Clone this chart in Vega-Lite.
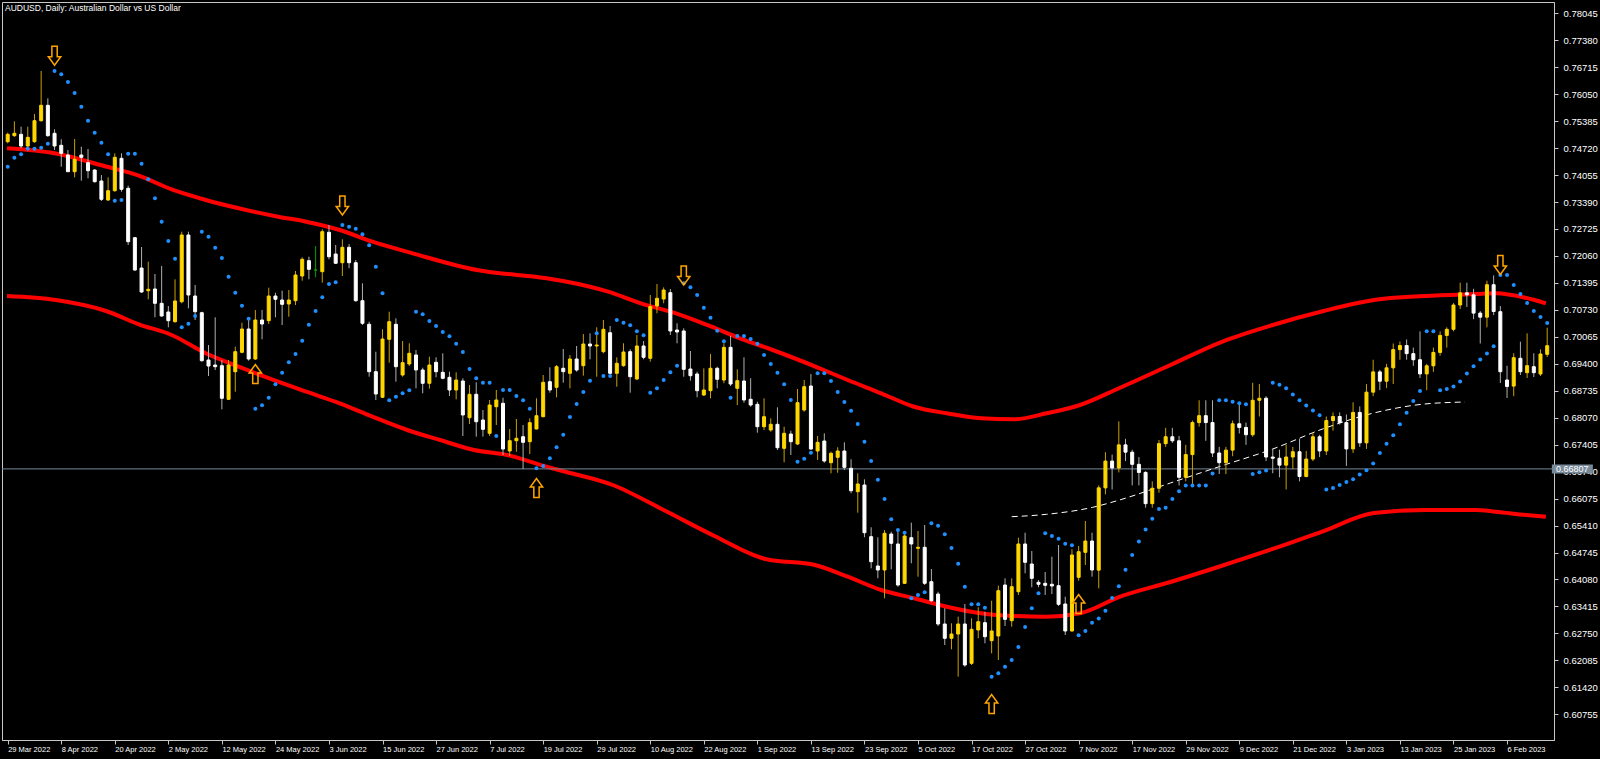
{
"$schema": "https://vega.github.io/schema/vega-lite/v6.json",
"width": 1552, "height": 738,
"autosize": {"type": "none"},
"padding": {"left": 2, "top": 2, "right": 46, "bottom": 19},
"background": "#000000",
"config": {"view": {"stroke": "#c8c8c8", "strokeWidth": 1}, "font": "Liberation Sans", "axis": {"grid": false, "labelOverlap": false, "labelFlush": false, "labelBound": false}},
"title": {"text": "AUDUSD, Daily:  Australian Dollar vs US Dollar", "anchor": "start", "frame": "group", "orient": "top", "offset": -10, "dx": 3, "fontSize": 8.5, "font": "Liberation Sans", "fontWeight": "normal", "color": "#ffffff"},
"datasets": {
"candles": [
{"i":0,"o":0.74878,"h":0.75100,"l":0.74838,"c":0.75060,"s":0.74261},
{"i":1,"o":0.75026,"h":0.75381,"l":0.75001,"c":0.75085,"s":0.74483},
{"i":2,"o":0.75060,"h":0.75248,"l":0.74715,"c":0.74772,"s":0.74567},
{"i":3,"o":0.74772,"h":0.75248,"l":0.74740,"c":0.74986,"s":0.74705},
{"i":4,"o":0.74878,"h":0.75561,"l":0.74853,"c":0.75396,"s":0.74705},
{"i":5,"o":0.75396,"h":0.76622,"l":0.75371,"c":0.75776,"s":0.74730},
{"i":6,"o":0.75776,"h":0.75948,"l":0.75001,"c":0.75026,"s":0.74829},
{"i":7,"o":0.75085,"h":0.75184,"l":0.74673,"c":0.74772,"s":0.76622},
{"i":8,"o":0.74789,"h":0.74937,"l":0.74261,"c":0.74592,"s":0.76540},
{"i":9,"o":0.74550,"h":0.74673,"l":0.74138,"c":0.74138,"s":0.76350},
{"i":10,"o":0.74138,"h":0.74944,"l":0.74000,"c":0.74444,"s":0.76079},
{"i":11,"o":0.74550,"h":0.74755,"l":0.73916,"c":0.74493,"s":0.75741},
{"i":12,"o":0.74360,"h":0.74698,"l":0.73975,"c":0.74162,"s":0.75396},
{"i":13,"o":0.74180,"h":0.74200,"l":0.73870,"c":0.73891,"s":0.75100},
{"i":14,"o":0.73909,"h":0.74056,"l":0.73415,"c":0.73457,"s":0.74853},
{"i":15,"o":0.73440,"h":0.74000,"l":0.73415,"c":0.73669,"s":0.74567},
{"i":16,"o":0.73669,"h":0.74592,"l":0.73645,"c":0.74493,"s":0.73423},
{"i":17,"o":0.74468,"h":0.74592,"l":0.73645,"c":0.73704,"s":0.73440},
{"i":18,"o":0.73728,"h":0.73793,"l":0.72330,"c":0.72411,"s":0.74582},
{"i":19,"o":0.72510,"h":0.72530,"l":0.71690,"c":0.71713,"s":0.74582},
{"i":20,"o":0.71762,"h":0.72280,"l":0.71146,"c":0.71171,"s":0.74335},
{"i":21,"o":0.71203,"h":0.71918,"l":0.70991,"c":0.71237,"s":0.73950},
{"i":22,"o":0.71245,"h":0.71615,"l":0.70547,"c":0.70892,"s":0.73482},
{"i":23,"o":0.70892,"h":0.71812,"l":0.70561,"c":0.70579,"s":0.72904},
{"i":24,"o":0.70677,"h":0.70825,"l":0.70300,"c":0.70463,"s":0.72429},
{"i":25,"o":0.70438,"h":0.71484,"l":0.70413,"c":0.70949,"s":0.71992},
{"i":26,"o":0.70931,"h":0.72658,"l":0.70892,"c":0.72577,"s":0.70300},
{"i":27,"o":0.72577,"h":0.72658,"l":0.70769,"c":0.71097,"s":0.70389},
{"i":28,"o":0.71072,"h":0.71343,"l":0.70480,"c":0.70685,"s":0.70579},
{"i":29,"o":0.70660,"h":0.70685,"l":0.69451,"c":0.69476,"s":0.72658},
{"i":30,"o":0.69493,"h":0.69863,"l":0.69099,"c":0.69345,"s":0.72535},
{"i":31,"o":0.69370,"h":0.70547,"l":0.69247,"c":0.69328,"s":0.72263},
{"i":32,"o":0.69353,"h":0.69493,"l":0.68277,"c":0.68549,"s":0.72009},
{"i":33,"o":0.68524,"h":0.69493,"l":0.68507,"c":0.69370,"s":0.71548},
{"i":34,"o":0.69205,"h":0.69821,"l":0.68711,"c":0.69698,"s":0.71153},
{"i":35,"o":0.69683,"h":0.70413,"l":0.69659,"c":0.70258,"s":0.70833},
{"i":36,"o":0.70258,"h":0.70480,"l":0.69476,"c":0.69518,"s":0.70512},
{"i":37,"o":0.69518,"h":0.70727,"l":0.69493,"c":0.70480,"s":0.68292},
{"i":38,"o":0.70480,"h":0.70727,"l":0.70004,"c":0.70381,"s":0.68376},
{"i":39,"o":0.70463,"h":0.71277,"l":0.70381,"c":0.71072,"s":0.68563},
{"i":40,"o":0.71072,"h":0.71153,"l":0.70547,"c":0.70991,"s":0.68894},
{"i":41,"o":0.70973,"h":0.71203,"l":0.70357,"c":0.70867,"s":0.69180},
{"i":42,"o":0.70875,"h":0.71220,"l":0.70561,"c":0.70973,"s":0.69436},
{"i":43,"o":0.70956,"h":0.71689,"l":0.70850,"c":0.71590,"s":0.69641},
{"i":44,"o":0.71565,"h":0.72026,"l":0.71449,"c":0.71977,"s":0.69969},
{"i":45,"o":0.71943,"h":0.72041,"l":0.71484,"c":0.71730,"s":0.70364},
{"i":46,"o":0.71713,"h":0.72305,"l":0.71533,"c":0.71713,"s":0.70702},
{"i":47,"o":0.71671,"h":0.72717,"l":0.71400,"c":0.72658,"s":0.71040},
{"i":48,"o":0.72643,"h":0.72823,"l":0.71977,"c":0.72041,"s":0.71368},
{"i":49,"o":0.72108,"h":0.72330,"l":0.71861,"c":0.71879,"s":0.71410},
{"i":50,"o":0.71893,"h":0.72470,"l":0.71565,"c":0.72273,"s":0.72823},
{"i":51,"o":0.72273,"h":0.72355,"l":0.71755,"c":0.71893,"s":0.72781},
{"i":52,"o":0.71893,"h":0.71960,"l":0.70931,"c":0.70956,"s":0.72732},
{"i":53,"o":0.70956,"h":0.71385,"l":0.70357,"c":0.70399,"s":0.72594},
{"i":54,"o":0.70374,"h":0.70438,"l":0.69081,"c":0.69205,"s":0.72322},
{"i":55,"o":0.69205,"h":0.69698,"l":0.68507,"c":0.68655,"s":0.71795},
{"i":56,"o":0.68573,"h":0.70251,"l":0.68560,"c":0.70011,"s":0.71138},
{"i":57,"o":0.70004,"h":0.70685,"l":0.69427,"c":0.70438,"s":0.68499},
{"i":58,"o":0.70374,"h":0.70522,"l":0.68958,"c":0.69328,"s":0.68588},
{"i":59,"o":0.69123,"h":0.69962,"l":0.69081,"c":0.69427,"s":0.68672},
{"i":60,"o":0.69395,"h":0.69905,"l":0.69345,"c":0.69659,"s":0.68746},
{"i":61,"o":0.69617,"h":0.69740,"l":0.68795,"c":0.69247,"s":0.70685},
{"i":62,"o":0.69247,"h":0.69303,"l":0.68672,"c":0.68919,"s":0.70620},
{"i":63,"o":0.68919,"h":0.69575,"l":0.68786,"c":0.69370,"s":0.70455},
{"i":64,"o":0.69437,"h":0.69560,"l":0.69066,"c":0.69205,"s":0.70332},
{"i":65,"o":0.69190,"h":0.69659,"l":0.69017,"c":0.69042,"s":0.70184},
{"i":66,"o":0.69066,"h":0.69205,"l":0.68605,"c":0.68753,"s":0.70078},
{"i":67,"o":0.68753,"h":0.69190,"l":0.68524,"c":0.68999,"s":0.69895},
{"i":68,"o":0.68975,"h":0.69042,"l":0.67619,"c":0.68137,"s":0.69691},
{"i":69,"o":0.68070,"h":0.68877,"l":0.67915,"c":0.68647,"s":0.69271},
{"i":70,"o":0.68647,"h":0.68943,"l":0.67602,"c":0.67971,"s":0.69042},
{"i":71,"o":0.68013,"h":0.68260,"l":0.67602,"c":0.67784,"s":0.68933},
{"i":72,"o":0.67685,"h":0.68507,"l":0.67619,"c":0.68383,"s":0.68933},
{"i":73,"o":0.68341,"h":0.68753,"l":0.67890,"c":0.68507,"s":0.67619},
{"i":74,"o":0.68425,"h":0.68563,"l":0.67150,"c":0.67298,"s":0.68753},
{"i":75,"o":0.67249,"h":0.67791,"l":0.67125,"c":0.67503,"s":0.68753},
{"i":76,"o":0.67503,"h":0.68038,"l":0.67231,"c":0.67562,"s":0.68605},
{"i":77,"o":0.67601,"h":0.67890,"l":0.66805,"c":0.67463,"s":0.68499},
{"i":78,"o":0.67478,"h":0.68055,"l":0.67175,"c":0.67947,"s":0.68292},
{"i":79,"o":0.67791,"h":0.68549,"l":0.67784,"c":0.68119,"s":0.66822},
{"i":80,"o":0.68095,"h":0.69123,"l":0.68080,"c":0.68943,"s":0.66879},
{"i":81,"o":0.68958,"h":0.69313,"l":0.68687,"c":0.68753,"s":0.67068},
{"i":82,"o":0.68820,"h":0.69370,"l":0.68573,"c":0.69328,"s":0.67340},
{"i":83,"o":0.69289,"h":0.69765,"l":0.68933,"c":0.69205,"s":0.67651},
{"i":84,"o":0.69165,"h":0.69617,"l":0.68795,"c":0.69518,"s":0.68087},
{"i":85,"o":0.69518,"h":0.69839,"l":0.69205,"c":0.69247,"s":0.68408},
{"i":86,"o":0.69353,"h":0.70134,"l":0.69106,"c":0.69888,"s":0.68704},
{"i":87,"o":0.69888,"h":0.70152,"l":0.69511,"c":0.69839,"s":0.68983},
{"i":88,"o":0.69839,"h":0.70300,"l":0.69081,"c":0.69863,"s":0.70152},
{"i":89,"o":0.69698,"h":0.70480,"l":0.69659,"c":0.70250,"s":0.69099},
{"i":90,"o":0.70166,"h":0.70332,"l":0.69148,"c":0.69165,"s":0.69099},
{"i":91,"o":0.69165,"h":0.69560,"l":0.68835,"c":0.69412,"s":0.70480},
{"i":92,"o":0.69353,"h":0.69905,"l":0.69328,"c":0.69691,"s":0.70413},
{"i":93,"o":0.69698,"h":0.69757,"l":0.68687,"c":0.69081,"s":0.70349},
{"i":94,"o":0.69025,"h":0.70110,"l":0.68999,"c":0.69839,"s":0.70201},
{"i":95,"o":0.69839,"h":0.69962,"l":0.69511,"c":0.69560,"s":0.70102},
{"i":96,"o":0.69535,"h":0.71097,"l":0.69451,"c":0.70808,"s":0.68687},
{"i":97,"o":0.70825,"h":0.71368,"l":0.70645,"c":0.71015,"s":0.68795},
{"i":98,"o":0.70998,"h":0.71286,"l":0.70892,"c":0.71220,"s":0.68999},
{"i":99,"o":0.71153,"h":0.71245,"l":0.70110,"c":0.70209,"s":0.69190},
{"i":100,"o":0.70233,"h":0.70398,"l":0.69905,"c":0.70184,"s":0.69353},
{"i":101,"o":0.70209,"h":0.70275,"l":0.69081,"c":0.69264,"s":0.71385},
{"i":102,"o":0.69271,"h":0.69715,"l":0.68983,"c":0.69106,"s":0.71286},
{"i":103,"o":0.69148,"h":0.69205,"l":0.68573,"c":0.68736,"s":0.71097},
{"i":104,"o":0.68630,"h":0.69289,"l":0.68605,"c":0.68753,"s":0.70783},
{"i":105,"o":0.68736,"h":0.69641,"l":0.68549,"c":0.69289,"s":0.70537},
{"i":106,"o":0.69289,"h":0.69328,"l":0.68795,"c":0.69017,"s":0.70216},
{"i":107,"o":0.68999,"h":0.69905,"l":0.68919,"c":0.69806,"s":0.69955},
{"i":108,"o":0.69806,"h":0.70093,"l":0.68852,"c":0.68901,"s":0.68563},
{"i":109,"o":0.68795,"h":0.69264,"l":0.68383,"c":0.68983,"s":0.70085},
{"i":110,"o":0.68975,"h":0.69560,"l":0.68440,"c":0.68507,"s":0.70085},
{"i":111,"o":0.68524,"h":0.69042,"l":0.68341,"c":0.68383,"s":0.70011},
{"i":112,"o":0.68400,"h":0.68465,"l":0.67700,"c":0.67848,"s":0.69895},
{"i":113,"o":0.67848,"h":0.68549,"l":0.67767,"c":0.68095,"s":0.69617},
{"i":114,"o":0.67767,"h":0.68055,"l":0.67725,"c":0.67907,"s":0.69395},
{"i":115,"o":0.67907,"h":0.68326,"l":0.67273,"c":0.67330,"s":0.69180},
{"i":116,"o":0.67315,"h":0.67848,"l":0.66970,"c":0.67685,"s":0.68894},
{"i":117,"o":0.67668,"h":0.67749,"l":0.67150,"c":0.67478,"s":0.68507},
{"i":118,"o":0.67421,"h":0.68778,"l":0.67397,"c":0.68440,"s":0.66985},
{"i":119,"o":0.68260,"h":0.68999,"l":0.68218,"c":0.68835,"s":0.67059},
{"i":120,"o":0.68852,"h":0.69148,"l":0.67273,"c":0.67298,"s":0.67207},
{"i":121,"o":0.67249,"h":0.67619,"l":0.67027,"c":0.67463,"s":0.69165},
{"i":122,"o":0.67495,"h":0.67685,"l":0.66960,"c":0.67002,"s":0.69165},
{"i":123,"o":0.66960,"h":0.67231,"l":0.66698,"c":0.67192,"s":0.68975},
{"i":124,"o":0.67093,"h":0.67340,"l":0.66713,"c":0.67249,"s":0.68704},
{"i":125,"o":0.67249,"h":0.67463,"l":0.66780,"c":0.66846,"s":0.68457},
{"i":126,"o":0.66822,"h":0.67044,"l":0.66205,"c":0.66269,"s":0.68243},
{"i":127,"o":0.66245,"h":0.66698,"l":0.65727,"c":0.66435,"s":0.67915},
{"i":128,"o":0.66410,"h":0.66550,"l":0.65120,"c":0.65233,"s":0.67478},
{"i":129,"o":0.65135,"h":0.65367,"l":0.64355,"c":0.64518,"s":0.67002},
{"i":130,"o":0.64412,"h":0.65120,"l":0.64108,"c":0.64313,"s":0.66541},
{"i":131,"o":0.64313,"h":0.65300,"l":0.63615,"c":0.65219,"s":0.66065},
{"i":132,"o":0.65201,"h":0.65258,"l":0.64331,"c":0.64972,"s":0.65564},
{"i":133,"o":0.64955,"h":0.65258,"l":0.63901,"c":0.63943,"s":0.65300},
{"i":134,"o":0.63984,"h":0.65258,"l":0.63968,"c":0.65152,"s":0.65233},
{"i":135,"o":0.65110,"h":0.65480,"l":0.64479,"c":0.64955,"s":0.63615},
{"i":136,"o":0.64849,"h":0.65275,"l":0.64148,"c":0.64873,"s":0.63697},
{"i":137,"o":0.64873,"h":0.65423,"l":0.63943,"c":0.63985,"s":0.63763},
{"i":138,"o":0.64025,"h":0.64338,"l":0.63531,"c":0.63556,"s":0.65465},
{"i":139,"o":0.63721,"h":0.63778,"l":0.62932,"c":0.62981,"s":0.65406},
{"i":140,"o":0.62981,"h":0.63369,"l":0.62463,"c":0.62629,"s":0.65194},
{"i":141,"o":0.62629,"h":0.62999,"l":0.62357,"c":0.62734,"s":0.64856},
{"i":142,"o":0.62734,"h":0.63162,"l":0.61682,"c":0.62981,"s":0.64469},
{"i":143,"o":0.62981,"h":0.63475,"l":0.61928,"c":0.61970,"s":0.63901},
{"i":144,"o":0.62012,"h":0.63122,"l":0.61970,"c":0.62850,"s":0.63467},
{"i":145,"o":0.62834,"h":0.63393,"l":0.62629,"c":0.63038,"s":0.63467},
{"i":146,"o":0.63014,"h":0.63285,"l":0.62505,"c":0.62668,"s":0.63383},
{"i":147,"o":0.62570,"h":0.63556,"l":0.62258,"c":0.62809,"s":0.61682},
{"i":148,"o":0.62686,"h":0.63926,"l":0.62093,"c":0.63803,"s":0.61765},
{"i":149,"o":0.63943,"h":0.64108,"l":0.62932,"c":0.63097,"s":0.61928},
{"i":150,"o":0.63063,"h":0.64108,"l":0.62915,"c":0.63901,"s":0.62093},
{"i":151,"o":0.63778,"h":0.65110,"l":0.63697,"c":0.64955,"s":0.62414},
{"i":152,"o":0.64955,"h":0.65233,"l":0.64232,"c":0.64503,"s":0.62907},
{"i":153,"o":0.64461,"h":0.64782,"l":0.63887,"c":0.64108,"s":0.63369},
{"i":154,"o":0.64010,"h":0.64067,"l":0.63887,"c":0.63961,"s":0.63739},
{"i":155,"o":0.63985,"h":0.64264,"l":0.63697,"c":0.63936,"s":0.65219},
{"i":156,"o":0.63961,"h":0.64641,"l":0.63721,"c":0.63919,"s":0.65152},
{"i":157,"o":0.63926,"h":0.64930,"l":0.63425,"c":0.63467,"s":0.65085},
{"i":158,"o":0.63475,"h":0.63655,"l":0.62710,"c":0.62809,"s":0.64962},
{"i":159,"o":0.62809,"h":0.64824,"l":0.62791,"c":0.64683,"s":0.64923},
{"i":160,"o":0.64133,"h":0.64905,"l":0.64049,"c":0.64765,"s":0.62703},
{"i":161,"o":0.64750,"h":0.65522,"l":0.64437,"c":0.65028,"s":0.62809},
{"i":162,"o":0.65028,"h":0.65233,"l":0.64148,"c":0.64313,"s":0.63014},
{"i":163,"o":0.6431,"h":0.6640,"l":0.6386,"c":0.6634,"s":0.63114},
{"i":164,"o":0.6634,"h":0.6722,"l":0.6618,"c":0.6700,"s":0.63311},
{"i":165,"o":0.6700,"h":0.6716,"l":0.6630,"c":0.6683,"s":0.63624},
{"i":166,"o":0.6683,"h":0.6798,"l":0.6672,"c":0.6740,"s":0.63912},
{"i":167,"o":0.6740,"h":0.6755,"l":0.6700,"c":0.6722,"s":0.64319},
{"i":168,"o":0.6722,"h":0.6728,"l":0.6640,"c":0.6692,"s":0.64685},
{"i":169,"o":0.6692,"h":0.6710,"l":0.6640,"c":0.6672,"s":0.65015},
{"i":170,"o":0.6672,"h":0.6675,"l":0.6585,"c":0.6595,"s":0.65312},
{"i":171,"o":0.6595,"h":0.6650,"l":0.6585,"c":0.6633,"s":0.65579},
{"i":172,"o":0.6633,"h":0.6752,"l":0.6622,"c":0.6743,"s":0.65819},
{"i":173,"o":0.6743,"h":0.6782,"l":0.6735,"c":0.6760,"s":0.65850},
{"i":174,"o":0.6760,"h":0.6782,"l":0.6745,"c":0.6750,"s":0.66063},
{"i":175,"o":0.6750,"h":0.6762,"l":0.6640,"c":0.6660,"s":0.66255},
{"i":176,"o":0.6660,"h":0.6740,"l":0.6650,"c":0.6716,"s":0.66400},
{"i":177,"o":0.6716,"h":0.6800,"l":0.6640,"c":0.6795,"s":0.66400},
{"i":178,"o":0.6795,"h":0.6850,"l":0.6785,"c":0.6812,"s":0.66400},
{"i":179,"o":0.6812,"h":0.6850,"l":0.6750,"c":0.6795,"s":0.66400},
{"i":180,"o":0.6795,"h":0.6850,"l":0.6710,"c":0.6720,"s":0.66694},
{"i":181,"o":0.6720,"h":0.6735,"l":0.6668,"c":0.6696,"s":0.68500},
{"i":182,"o":0.6696,"h":0.6735,"l":0.6668,"c":0.6727,"s":0.68500},
{"i":183,"o":0.6727,"h":0.6800,"l":0.6712,"c":0.6792,"s":0.68464},
{"i":184,"o":0.6792,"h":0.6840,"l":0.6768,"c":0.6783,"s":0.68428},
{"i":185,"o":0.6783,"h":0.6795,"l":0.6740,"c":0.6765,"s":0.68400},
{"i":186,"o":0.6765,"h":0.6893,"l":0.6760,"c":0.6850,"s":0.66680},
{"i":187,"o":0.6850,"h":0.6890,"l":0.6810,"c":0.6855,"s":0.66725},
{"i":188,"o":0.6855,"h":0.6860,"l":0.6700,"c":0.6710,"s":0.66769},
{"i":189,"o":0.6710,"h":0.6730,"l":0.6670,"c":0.6707,"s":0.68930},
{"i":190,"o":0.6707,"h":0.6728,"l":0.6660,"c":0.6690,"s":0.68885},
{"i":191,"o":0.6690,"h":0.6740,"l":0.6630,"c":0.6710,"s":0.68794},
{"i":192,"o":0.6710,"h":0.6735,"l":0.6680,"c":0.6723,"s":0.68644},
{"i":193,"o":0.6723,"h":0.6755,"l":0.6650,"c":0.6662,"s":0.68503},
{"i":194,"o":0.6662,"h":0.6725,"l":0.6660,"c":0.6705,"s":0.68371},
{"i":195,"o":0.6705,"h":0.6770,"l":0.6700,"c":0.6760,"s":0.68247},
{"i":196,"o":0.6760,"h":0.6765,"l":0.6710,"c":0.6725,"s":0.68130},
{"i":197,"o":0.6725,"h":0.6810,"l":0.6715,"c":0.6800,"s":0.66300},
{"i":198,"o":0.6800,"h":0.6820,"l":0.6775,"c":0.6810,"s":0.66336},
{"i":199,"o":0.6810,"h":0.6820,"l":0.6790,"c":0.6795,"s":0.66411},
{"i":200,"o":0.6795,"h":0.6815,"l":0.6688,"c":0.6730,"s":0.66483},
{"i":201,"o":0.6730,"h":0.6845,"l":0.6720,"c":0.6820,"s":0.66552},
{"i":202,"o":0.6820,"h":0.6835,"l":0.6735,"c":0.6745,"s":0.66666},
{"i":203,"o":0.6745,"h":0.6890,"l":0.6730,"c":0.6870,"s":0.66773},
{"i":204,"o":0.6870,"h":0.6950,"l":0.6860,"c":0.6920,"s":0.66943},
{"i":205,"o":0.6920,"h":0.6925,"l":0.6875,"c":0.6897,"s":0.67199},
{"i":206,"o":0.6897,"h":0.6940,"l":0.6880,"c":0.6930,"s":0.67429},
{"i":207,"o":0.6930,"h":0.6990,"l":0.6890,"c":0.6975,"s":0.67636},
{"i":208,"o":0.6975,"h":0.6995,"l":0.6950,"c":0.6985,"s":0.67908},
{"i":209,"o":0.6985,"h":0.7000,"l":0.6950,"c":0.6965,"s":0.68194},
{"i":210,"o":0.6965,"h":0.6980,"l":0.6935,"c":0.6950,"s":0.68483},
{"i":211,"o":0.6950,"h":0.7020,"l":0.6905,"c":0.6915,"s":0.68726},
{"i":212,"o":0.6915,"h":0.6940,"l":0.6875,"c":0.6935,"s":0.70200},
{"i":213,"o":0.6935,"h":0.6980,"l":0.6920,"c":0.6968,"s":0.70200},
{"i":214,"o":0.6968,"h":0.7020,"l":0.6960,"c":0.7010,"s":0.68750},
{"i":215,"o":0.7010,"h":0.7030,"l":0.6980,"c":0.7025,"s":0.68779},
{"i":216,"o":0.7025,"h":0.7090,"l":0.7020,"c":0.7085,"s":0.68840},
{"i":217,"o":0.7085,"h":0.7140,"l":0.7075,"c":0.7115,"s":0.68964},
{"i":218,"o":0.7115,"h":0.7140,"l":0.7080,"c":0.7110,"s":0.69159},
{"i":219,"o":0.7110,"h":0.7125,"l":0.7050,"c":0.7065,"s":0.69338},
{"i":220,"o":0.7065,"h":0.7070,"l":0.6990,"c":0.7055,"s":0.69503},
{"i":221,"o":0.7055,"h":0.7145,"l":0.7030,"c":0.7135,"s":0.69655},
{"i":222,"o":0.7135,"h":0.7158,"l":0.7060,"c":0.7069,"s":0.69835},
{"i":223,"o":0.70685,"h":0.70825,"l":0.68926,"c":0.69205,"s":0.71590},
{"i":224,"o":0.69000,"h":0.69350,"l":0.68556,"c":0.68840,"s":0.71590},
{"i":225,"o":0.68850,"h":0.69660,"l":0.68600,"c":0.69550,"s":0.71343},
{"i":226,"o":0.69535,"h":0.69945,"l":0.69123,"c":0.69205,"s":0.71121},
{"i":227,"o":0.69180,"h":0.70152,"l":0.69049,"c":0.69353,"s":0.70899},
{"i":228,"o":0.69328,"h":0.69659,"l":0.69074,"c":0.69180,"s":0.70702},
{"i":229,"o":0.69148,"h":0.69757,"l":0.69099,"c":0.69641,"s":0.70554},
{"i":230,"o":0.69634,"h":0.70290,"l":0.69567,"c":0.69846,"s":0.70406}
],
"bands": [
{"b":"up","i":-0.1,"v":0.74715},{"b":"up","i":7.0,"v":0.74592},{"b":"up","i":14.4,"v":0.74278},{"b":"up","i":19.6,"v":0.74040},{"b":"up","i":24.5,"v":0.73700},{"b":"up","i":29.6,"v":0.73440},{"b":"up","i":34.5,"v":0.73235},{"b":"up","i":40.4,"v":0.73028},{"b":"up","i":44.6,"v":0.72905},{"b":"up","i":49.6,"v":0.72700},{"b":"up","i":54.5,"v":0.72411},{"b":"up","i":60.5,"v":0.72125},{"b":"up","i":70.1,"v":0.71713},{"b":"up","i":80.5,"v":0.71508},{"b":"up","i":84.7,"v":0.71385},{"b":"up","i":89.7,"v":0.71178},{"b":"up","i":94.6,"v":0.70892},{"b":"up","i":99.5,"v":0.70660},{"b":"up","i":104.5,"v":0.70357},{"b":"up","i":109.4,"v":0.70028},{"b":"up","i":114.3,"v":0.69740},{"b":"up","i":121.3,"v":0.69289},{"b":"up","i":125.5,"v":0.69000},{"b":"up","i":130.5,"v":0.68672},{"b":"up","i":135.4,"v":0.68341},{"b":"up","i":140.3,"v":0.68178},{"b":"up","i":145.4,"v":0.68055},{"b":"up","i":150.3,"v":0.68030},{"b":"up","i":155.2,"v":0.68178},{"b":"up","i":160.2,"v":0.68383},{"b":"up","i":166.1,"v":0.68803},{"b":"up","i":173.7,"v":0.69370},{"b":"up","i":181.3,"v":0.69937},{"b":"up","i":189,"v":0.70357},{"b":"up","i":196.6,"v":0.70702},{"b":"up","i":204.1,"v":0.70973},{"b":"up","i":211.7,"v":0.71072},{"b":"up","i":219.3,"v":0.71121},{"b":"up","i":222.3,"v":0.71138},{"b":"up","i":226.9,"v":0.71023},{"b":"up","i":229.8,"v":0.70892},
{"b":"lo","i":-0.1,"v":0.71072},{"b":"lo","i":7.2,"v":0.70973},{"b":"lo","i":14.7,"v":0.70702},{"b":"lo","i":19.6,"v":0.70374},{"b":"lo","i":24.5,"v":0.70110},{"b":"lo","i":29.6,"v":0.69659},{"b":"lo","i":34.5,"v":0.69328},{"b":"lo","i":40.4,"v":0.68958},{"b":"lo","i":44.6,"v":0.68711},{"b":"lo","i":49.6,"v":0.68425},{"b":"lo","i":54.5,"v":0.68095},{"b":"lo","i":59.7,"v":0.67767},{"b":"lo","i":64.6,"v":0.67520},{"b":"lo","i":69.7,"v":0.67273},{"b":"lo","i":74.6,"v":0.67150},{"b":"lo","i":80.5,"v":0.66862},{"b":"lo","i":82.9,"v":0.66755},{"b":"lo","i":90.4,"v":0.66410},{"b":"lo","i":98.0,"v":0.65793},{"b":"lo","i":105.6,"v":0.65152},{"b":"lo","i":113.2,"v":0.64585},{"b":"lo","i":120.6,"v":0.64437},{"b":"lo","i":125.5,"v":0.64148},{"b":"lo","i":130.5,"v":0.63820},{"b":"lo","i":135.4,"v":0.63615},{"b":"lo","i":140.3,"v":0.63408},{"b":"lo","i":145.4,"v":0.63245},{"b":"lo","i":150.3,"v":0.63178},{"b":"lo","i":155.2,"v":0.63161},{"b":"lo","i":160.2,"v":0.63245},{"b":"lo","i":166.1,"v":0.63650},{"b":"lo","i":173.7,"v":0.64017},{"b":"lo","i":181.3,"v":0.64412},{"b":"lo","i":189,"v":0.64832},{"b":"lo","i":196.6,"v":0.65275},{"b":"lo","i":204.1,"v":0.65719},{"b":"lo","i":211.7,"v":0.65793},{"b":"lo","i":219.3,"v":0.65793},{"b":"lo","i":222.3,"v":0.65751},{"b":"lo","i":226.9,"v":0.65670},{"b":"lo","i":229.8,"v":0.65628}
],
"ma": [
{"i":150.0,"v":0.65628},{"i":155.2,"v":0.65687},{"i":162.1,"v":0.65860},{"i":166.1,"v":0.66040},{"i":173.7,"v":0.66459},{"i":181.3,"v":0.66879},{"i":189,"v":0.67298},{"i":196.6,"v":0.67801},{"i":204.1,"v":0.68186},{"i":211.7,"v":0.68408},{"i":217.7,"v":0.68457}
],
"arrows": [
{"i":7,"p":0.76997,"dir":"down"},{"i":37,"p":0.69148,"dir":"up"},{"i":50,"p":0.73304,"dir":"down"},{"i":79,"p":0.66336,"dir":"up"},{"i":101,"p":0.71578,"dir":"down"},{"i":147,"p":0.61008,"dir":"up"},{"i":160,"p":0.63475,"dir":"up"},{"i":223,"p":0.71837,"dir":"down"}
],
"last": [{"i":233.76,"p":0.66807}]
},
"encoding": {
"x": {"field": "i", "type": "quantitative", "title": null,
 "scale": {"domain": [-0.104, 230.27], "nice": false, "zero": false},
 "axis": {"values": [0,8,16,24,32,40,48,56,64,72,80,88,96,104,112,120,128,136,144,152,160,168,176,184,192,200,208,216,224], "tickCount": 40,
  "labelExpr": "['29 Mar 2022','8 Apr 2022','20 Apr 2022','2 May 2022','12 May 2022','24 May 2022','3 Jun 2022','15 Jun 2022','27 Jun 2022','7 Jul 2022','19 Jul 2022','29 Jul 2022','10 Aug 2022','22 Aug 2022','1 Sep 2022','13 Sep 2022','23 Sep 2022','5 Oct 2022','17 Oct 2022','27 Oct 2022','7 Nov 2022','17 Nov 2022','29 Nov 2022','9 Dec 2022','21 Dec 2022','3 Jan 2023','13 Jan 2023','25 Jan 2023','6 Feb 2023'][round(datum.value/8)]",
  "labelAlign": "left", "labelDx": 0, "labelPadding": 1, "tickSize": 4, "labelFontSize": 7.5, "labelFont": "Liberation Sans", "labelColor": "#ffffff", "tickColor": "#c8c8c8", "domainColor": "#c8c8c8", "labelOverlap": false, "labelFlush": false, "labelBound": false}}
},
"layer": [
{"data": {"name": "bands"}, "mark": {"type": "line", "color": "#ff0000", "strokeWidth": 4, "interpolate": "monotone", "clip": true},
 "encoding": {"y": {"field": "v", "type": "quantitative", "title": null,
   "scale": {"domain": [0.60120, 0.78324], "nice": false, "zero": false},
   "axis": {"orient": "right", "values": [0.60755,0.61420,0.62085,0.62750,0.63415,0.64080,0.64745,0.65410,0.66075,0.66740,0.67405,0.68070,0.68735,0.69400,0.70065,0.70730,0.71395,0.72060,0.72725,0.73390,0.74055,0.74720,0.75385,0.76050,0.76715,0.77380,0.78045], "tickCount": 40,
    "format": ".5f", "tickSize": 4, "labelPadding": 5, "labelFontSize": 9.5, "labelFont": "Liberation Sans", "labelColor": "#ffffff", "tickColor": "#c8c8c8", "domainColor": "#c8c8c8", "labelOverlap": false, "labelFlush": false, "labelBound": false}},
  "detail": {"field": "b"}}},
{"data": {"name": "last"}, "mark": {"type": "rule", "color": "#778899", "strokeWidth": 1, "clip": true},
 "encoding": {"x": null, "y": {"field": "p", "type": "quantitative", "title": null}}},
{"data": {"name": "ma"}, "mark": {"type": "line", "color": "#ffffff", "strokeWidth": 1, "strokeDash": [6, 4], "interpolate": "monotone", "clip": true},
 "encoding": {"y": {"field": "v", "type": "quantitative", "title": null}}},
{"data": {"name": "candles"}, "mark": {"type": "rule", "strokeWidth": 1, "clip": true},
 "encoding": {"y": {"field": "h", "type": "quantitative", "title": null}, "y2": {"field": "l"},
  "color": {"condition": [{"test": "datum.c == datum.o", "value": "#00a000"}, {"test": "datum.c > datum.o", "value": "#c8a000"}], "value": "#b0b0b0"}}},
{"data": {"name": "candles"}, "mark": {"type": "bar", "size": 3, "strokeWidth": 1, "clip": true},
 "encoding": {"y": {"field": "o", "type": "quantitative", "title": null}, "y2": {"field": "c"},
  "color": {"condition": [{"test": "datum.c == datum.o", "value": "#00a000"}, {"test": "datum.c > datum.o", "value": "#ffd700"}], "value": "#ffffff"},
  "stroke": {"condition": [{"test": "datum.c == datum.o", "value": "#00a000"}, {"test": "datum.c > datum.o", "value": "#ffd700"}], "value": "#ffffff"}}},
{"data": {"name": "candles"}, "mark": {"type": "circle", "size": 16, "color": "#1e90ff", "opacity": 1, "clip": true},
 "encoding": {"y": {"field": "s", "type": "quantitative", "title": null}}},
{"data": {"name": "arrows"}, "mark": {"type": "point", "filled": false, "stroke": "#ffa500", "strokeWidth": 1.5, "opacity": 1, "size": 361, "clip": true},
 "encoding": {"y": {"field": "p", "type": "quantitative", "title": null},
  "shape": {"field": "dir", "type": "nominal", "legend": null, "scale": {"domain": ["down", "up"], "range": ["M-0.28,-1H0.28V0.1H0.65L0,1L-0.65,0.1H-0.28Z", "M-0.28,1H0.28V-0.1H0.65L0,-1L-0.65,-0.1H-0.28Z"]}}}},
{"data": {"name": "last"}, "mark": {"type": "point", "filled": true, "color": "#778899", "opacity": 1, "size": 1681, "shape": "M-1,-0.22H1V0.22H-1Z"},
 "encoding": {"y": {"field": "p", "type": "quantitative", "title": null}}},
{"data": {"name": "last"}, "mark": {"type": "text", "color": "#ffffff", "fontSize": 9, "font": "Liberation Sans", "align": "center", "baseline": "middle"},
 "encoding": {"y": {"field": "p", "type": "quantitative", "title": null}, "text": {"field": "p", "type": "quantitative", "format": ".5f"}}}
]
}
